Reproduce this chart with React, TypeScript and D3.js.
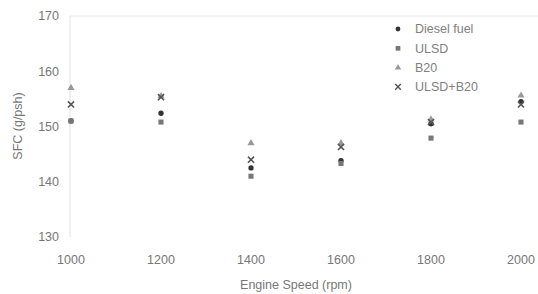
import React, { useRef, useEffect } from "react";
import * as d3 from "d3";

const speeds = [1000, 1200, 1400, 1600, 1800, 2000];
const dieselFuel = [151, 152.4, 142.5, 143.8, 150.5, 154.5];
const ulsd = [151, 150.8, 141, 143.3, 147.9, 150.8];
const b20 = [157, 155.5, 147, 147, 151.3, 155.6];
const ulsdB20 = [154, 155.3, 144, 146.3, 150.8, 154];
const yTicks = [130, 140, 150, 160, 170];

const seriesNames = ["Diesel fuel", "ULSD", "B20", "ULSD+B20"];
const seriesValues = [dieselFuel, ulsd, b20, ulsdB20];
const seriesColors = ["#333", "#777", "#999", "#555"];

const App = () => {
    const svgRef = useRef<SVGSVGElement>(null);

    useEffect(() => {
        const width = 538;
        const height = 294;
        const svg = d3.select(svgRef.current).attr("width", width).attr("height", height);
        svg.selectAll("*").remove();

        const x = d3.scaleLinear().domain([1000, 2000]).range([71, 521]);
        const y = d3.scaleLinear().domain([130, 170]).range([237, 16]);
        const font = "'Liberation Sans', Arial, sans-serif";
        const textColor = "#777";

        // faint frame
        svg.append("line").attr("x1", 70).attr("x2", 70).attr("y1", 16).attr("y2", 237)
            .attr("stroke", "#e2e2e2");
        svg.append("line").attr("x1", 70).attr("x2", 538).attr("y1", 16).attr("y2", 16)
            .attr("stroke", "#e8e8e8");

        svg.append("g")
            .selectAll("text")
            .data(yTicks)
            .enter()
            .append("text")
            .attr("x", 59)
            .attr("y", (d) => y(d))
            .attr("dy", "0.35em")
            .attr("text-anchor", "end")
            .attr("font-family", font)
            .attr("font-size", 12.5)
            .attr("fill", textColor)
            .text((d) => d);

        svg.append("g")
            .selectAll("text")
            .data(speeds)
            .enter()
            .append("text")
            .attr("x", (d) => x(d))
            .attr("y", 264)
            .attr("text-anchor", "middle")
            .attr("font-family", font)
            .attr("font-size", 12.5)
            .attr("fill", textColor)
            .text((d) => d);

        svg.append("text")
            .attr("x", 296)
            .attr("y", 289)
            .attr("text-anchor", "middle")
            .attr("font-family", font)
            .attr("font-size", 12.5)
            .attr("fill", textColor)
            .text("Engine Speed (rpm)");

        svg.append("text")
            .attr("transform", `translate(22, 126) rotate(-90)`)
            .attr("text-anchor", "middle")
            .attr("font-family", font)
            .attr("font-size", 12.5)
            .attr("fill", textColor)
            .text("SFC (g/psh)");

        const shapes = [d3.symbolCircle, d3.symbolSquare, d3.symbolTriangle, d3.symbolTimes];
        const sizes = [22, 26, 22, 26];

        seriesValues.forEach((vals, i) => {
            const sym = d3.symbol().type(shapes[i]).size(sizes[i]);
            const g = svg.append("g");
            const marks = g.selectAll("path")
                .data(vals)
                .enter()
                .append("path")
                .attr("transform", (d, j) => `translate(${x(speeds[j])}, ${y(d)})`)
                .attr("d", sym);
            if (i === 3) marks.attr("fill", "none").attr("stroke", seriesColors[i]).attr("stroke-width", 1.6);
            else marks.attr("fill", seriesColors[i]);
        });

        // legend
        const legend = svg.append("g");
        seriesNames.forEach((name, i) => {
            const ly = 29 + i * 19.3;
            const sym = d3.symbol().type(shapes[i]).size(sizes[i] - 4);
            const p = legend.append("path").attr("transform", `translate(398, ${ly})`).attr("d", sym);
            if (i === 3) p.attr("fill", "none").attr("stroke", seriesColors[i]).attr("stroke-width", 1.4);
            else p.attr("fill", seriesColors[i]);
            legend.append("text")
                .attr("x", 415)
                .attr("y", ly)
                .attr("dy", "0.35em")
                .attr("font-family", font)
                .attr("font-size", 12.5)
                .attr("fill", "#808080")
                .text(name);
        });
    }, []);

    return (
        <div style={{ position: "absolute", left: 0, top: 0 }}>
            <svg ref={svgRef} style={{ display: "block" }}></svg>
        </div>
    );
};

export default App;
